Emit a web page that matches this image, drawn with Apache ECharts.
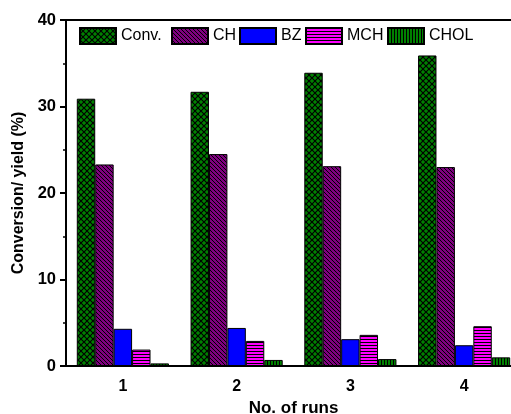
<!DOCTYPE html>
<html>
<head>
<meta charset="utf-8">
<script src="https://cdn.jsdelivr.net/npm/echarts@6/dist/echarts.min.js"></script>
<style>
  html, body { margin: 0; padding: 0; background: #fff; }
  #chart { width: 511px; height: 414px; }
</style>
</head>
<body>
<div id="chart"></div>
<script>
const runs = ['1', '2', '3', '4']
const seriesNames = ['Conv.', 'CH', 'BZ', 'MCH', 'CHOL']
const conv = [30.9, 31.7, 33.9, 35.9]
const ch = [23.3, 24.5, 23.1, 23.0]
const bz = [4.3, 4.4, 3.1, 2.4]
const mch = [1.9, 2.9, 3.6, 4.6]
const chol = [0.3, 0.7, 0.8, 1.0]
const yTicks = [0, 10, 20, 30, 40]

// small canvas tiles used as bar fills
const makePattern = (size, bg, draw) => {
  const c = document.createElement('canvas')
  c.width = size
  c.height = size
  const ctx = c.getContext('2d')
  ctx.fillStyle = bg
  ctx.fillRect(0, 0, size, size)
  ctx.strokeStyle = '#000'
  ctx.lineWidth = 1
  draw(ctx, size)
  return { image: c, repeat: 'repeat' }
}

const crossHatch = makePattern(6, '#008000', (ctx, s) => {
  ctx.lineWidth = 1.2
  ctx.beginPath()
  ctx.moveTo(0, 0); ctx.lineTo(s, s)
  ctx.moveTo(s, 0); ctx.lineTo(0, s)
  ctx.stroke()
})
const diagonal = makePattern(4, '#800080', (ctx, s) => {
  ctx.beginPath()
  ctx.moveTo(-1, -1); ctx.lineTo(s + 1, s + 1)
  ctx.moveTo(-1, s - 1); ctx.lineTo(1, s + 1)
  ctx.moveTo(s - 1, -1); ctx.lineTo(s + 1, 1)
  ctx.stroke()
})
const horizontal = makePattern(3, '#ff00ff', (ctx, s) => {
  ctx.beginPath()
  ctx.moveTo(0, 0.5); ctx.lineTo(s, 0.5)
  ctx.stroke()
})
const vertical = makePattern(3, '#008000', (ctx, s) => {
  ctx.beginPath()
  ctx.moveTo(0.5, 0); ctx.lineTo(0.5, s)
  ctx.stroke()
})

const fills = [crossHatch, diagonal, '#0000ff', horizontal, vertical]
const values = [conv, ch, bz, mch, chol]
const legendLeft = [79, 171, 239, 305, 387]

const chart = echarts.init(document.getElementById('chart'))

const option = {
  animation: false,
  textStyle: { fontFamily: 'Liberation Sans, Arial, sans-serif' },
  grid: {
    left: 66, width: 455, top: 20, height: 346,
    containLabel: false,
    outerBoundsMode: 'none',
    show: true, borderColor: '#000', borderWidth: 2
  },
  // one legend per item so each box sits where the original has it
  legend: seriesNames.map((name, i) => ({
    data: [name],
    left: legendLeft[i],
    top: 27,
    padding: 0,
    icon: 'rect',
    itemWidth: 36,
    itemHeight: 16,
    textStyle: { fontSize: 16, color: '#000', fontFamily: 'Liberation Sans, Arial, sans-serif' }
  })),
  xAxis: [
    {
      type: 'category',
      data: runs,
      axisLine: { lineStyle: { color: '#000', width: 2 } },
      axisTick: { alignWithLabel: true, length: 5, lineStyle: { color: '#000', width: 2 } },
      axisLabel: { fontSize: 16, fontWeight: 'bold', color: '#000', margin: 13 },
      name: 'No. of runs',
      nameLocation: 'middle',
      nameGap: 33,
      nameTextStyle: { fontSize: 17, fontWeight: 'bold', color: '#000' }
    },
    {
      type: 'category',
      data: runs,
      position: 'bottom',
      axisLine: { show: false },
      axisTick: { length: 3, lineStyle: { color: '#000', width: 2 } },
      axisLabel: { show: false }
    }
  ],
  yAxis: {
    type: 'value',
    min: 0,
    max: 40,
    interval: 10,
    axisLine: { show: true, lineStyle: { color: '#000', width: 2 } },
    axisTick: { show: true, length: 6, lineStyle: { color: '#000', width: 2 } },
    minorTick: { show: true, splitNumber: 2, length: 3, lineStyle: { color: '#000', width: 1.5 } },
    splitLine: { show: false },
    axisLabel: {
      fontSize: 16.5, fontWeight: 'bold', color: '#000', margin: 10,
      formatter: (v) => (yTicks.includes(v) ? String(v) : '')
    },
    name: 'Conversion/ yield (%)',
    nameLocation: 'middle',
    nameGap: 38,
    nameTextStyle: { fontSize: 16, fontWeight: 'bold', color: '#000' }
  },
  series: seriesNames.map((name, i) => ({
    name,
    type: 'bar',
    xAxisIndex: 0,
    data: values[i],
    barGap: '0%',
    barCategoryGap: '19%',
    itemStyle: { color: fills[i], borderColor: '#000', borderWidth: 1 }
  }))
}

chart.setOption(option)
</script>
</body>
</html>
